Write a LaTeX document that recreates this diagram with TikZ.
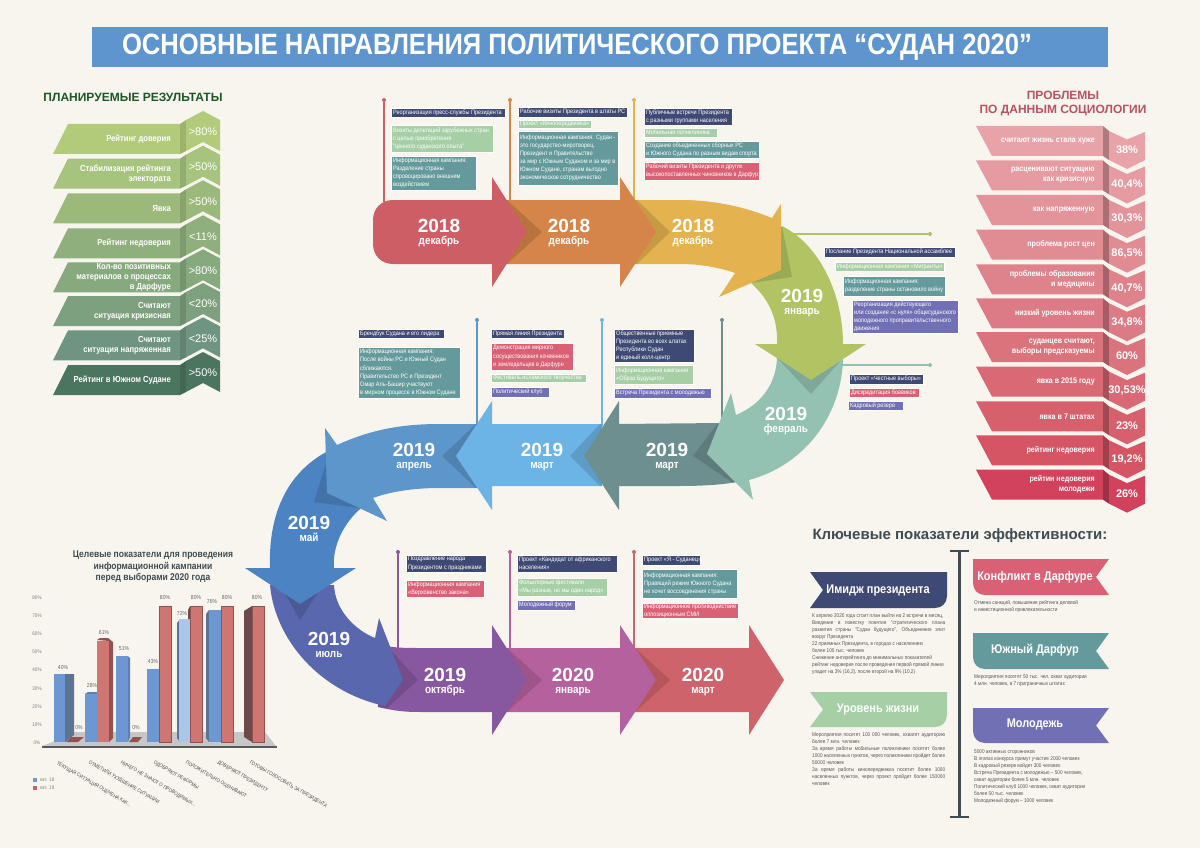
\documentclass[tikz,border=0pt]{standalone}
\usepackage{fontspec}
\setmainfont{Liberation Sans}
\newfontfamily\nf[FakeStretch=0.87]{Liberation Sans}
\definecolor{bg}{HTML}{F8F5EF}
\definecolor{cnavy}{HTML}{3F4A74}
\definecolor{cgreen}{HTML}{A6CFA6}
\definecolor{cteal}{HTML}{659A9C}
\definecolor{cred}{HTML}{DA6175}
\definecolor{cpurp}{HTML}{7270B4}
\definecolor{a1}{HTML}{CE5E66}
\definecolor{a2}{HTML}{D5854A}
\definecolor{a3}{HTML}{E4B34F}
\definecolor{a4}{HTML}{B1C362}
\definecolor{a5}{HTML}{93C1B2}
\definecolor{a6}{HTML}{6E8F90}
\definecolor{a7}{HTML}{6CB4E6}
\definecolor{a8}{HTML}{5C96CB}
\definecolor{a9}{HTML}{4C83C2}
\definecolor{a10}{HTML}{5867AE}
\definecolor{a11}{HTML}{87589F}
\definecolor{a12}{HTML}{B5619D}
\definecolor{a13}{HTML}{CE636B}
\definecolor{ink}{HTML}{3F4C52}
\definecolor{para}{HTML}{555555}
\definecolor{barb}{HTML}{6D97D2}
\definecolor{barl}{HTML}{A9C7E9}
\definecolor{bard}{HTML}{5C7392}
\definecolor{barr}{HTML}{CF7672}
\definecolor{barrd}{HTML}{6B4A48}
\definecolor{banner}{HTML}{5E95CE}
\tikzset{
  overlapmark/.style={fill=black,fill opacity=.13,draw=none},
  tbox/.style={draw=white,line width=.5pt,inner sep=0pt,outer sep=0pt},
  tbtext/.style={text=white,inner sep=0pt,align=left,font=\nf\fontsize{6.35}{8.1}\selectfont},
  yrlab/.style={text=white,inner sep=0pt,anchor=base,font=\bfseries\fontsize{19}{19}\selectfont},
  molab/.style={text=white,inner sep=0pt,anchor=base,font=\nf\bfseries\fontsize{11.4}{12}\selectfont},
  rowlab/.style={text=white,inner sep=0pt,align=right,anchor=east,font=\nf\bfseries\fontsize{8.8}{10}\selectfont},
  rowlabr/.style={text=white,inner sep=0pt,align=right,anchor=east,font=\nf\bfseries\fontsize{8.2}{10}\selectfont},
  rowval/.style={text=white,inner sep=0pt,font=\fontsize{11}{12}\selectfont},
  rowvalb/.style={text=white,inner sep=0pt,font=\bfseries\fontsize{11}{12}\selectfont},
  dotmark/.style={circle,inner sep=0pt,minimum size=4pt},
  ribtext/.style={text=white,inner sep=0pt,font=\nf\bfseries\fontsize{12.6}{14}\selectfont},
  partext/.style={text=para,inner sep=0pt,align=left,anchor=north west,font=\nf\fontsize{5.4}{7}\selectfont},
  tick/.style={text=gray,inner sep=0pt,font=\nf\fontsize{5.2}{6}\selectfont},
  vallab/.style={text=black!60,inner sep=0pt,font=\nf\fontsize{5.8}{6}\selectfont},
  catlab/.style={text=black!70,inner sep=0pt,anchor=north west,rotate=-30,font=\nf\fontsize{5.2}{6}\selectfont},
  gridl/.style={draw=black!8!blue!4!white,line width=.6pt},
}
\newcommand{\tbx}[7]{%
  \pgfmathsetmacro\tbw{#5-#3}\pgfmathsetmacro\tbh{#6-#4}%
  \node[tbox,fill=#2,minimum width=\tbw pt,minimum height=\tbh pt,anchor=north west] (#1) at (#3,#4) {};
  \node[tbtext,anchor=west] (#1t) at ([xshift=2pt]#1.west) {#7};}
\newcommand{\stemline}[6]{%
  \coordinate (#1b) at (#5,#6);
  \node[dotmark,fill=#2] (#1a) at (#3,#4) {};
  \draw[#2,line width=1.2pt] (#1a) -- (#1b);}
\newcommand{\yrm}[5]{%
  \node[yrlab] (#1y) at (#2,#3+6.8) {#4};
  \node[molab] (#1m) at (#2,#3+18) {#5};}
\newcommand{\lrow}[5]{%
  \begin{scope}[shift={(0,#1)}]
  \fill[#2] (53,154) -- (68,124) -- (180,124) -- (180,154) -- cycle;
  \fill[#2!88!black] (180,124) -- (186,120) -- (186,151) -- (180,154) -- cycle;
  \fill[#2] (186,120) -- (203,111) -- (220,120) -- (220,151) -- (203,142) -- (186,151) -- cycle;
  \node[rowlab] (#3l) at (171,139) {#4};
  \node[rowval] (#3v) at (203,132) {#5};
  \end{scope}}
\newcommand{\rrow}[5]{%
  \begin{scope}[shift={(0,#1)}]
  \fill[#2] (976,126) -- (1103,126) -- (1103,156) -- (992,156) -- cycle;
  \fill[#2!75!black] (1103,126) -- (1109,131) -- (1109,160) -- (1103,156) -- cycle;
  \fill[#2] (1109,131) -- (1127,139.5) -- (1145,132) -- (1145,160) -- (1127,169) -- (1109,160) -- cycle;
  \node[rowlabr] (#3l) at (1095,141) {#4};
  \node[rowvalb] (#3v) at (1127,150) {#5};
  \end{scope}}
\newcommand{\jl}[1]{\makebox[133pt][s]{#1}}
\begin{document}
\begin{tikzpicture}[x=1pt,y=-1pt]
\useasboundingbox (0,0) rectangle (1200,848);
\fill[bg] (0,0) rectangle (1200,848);
% title
\fill[banner] (92,27) rectangle (1108,67);
\node[text=white,inner sep=0pt,font=\nf\bfseries\fontsize{29.4}{30}\selectfont] (title) at (577,47) {ОСНОВНЫЕ НАПРАВЛЕНИЯ ПОЛИТИЧЕСКОГО ПРОЕКТА “СУДАН 2020”};

% stems
\stemline{s1}{a1}{384}{100}{384}{202}
\stemline{s2}{a2}{510}{100}{510}{202}
\stemline{s3}{a3}{634}{100}{634}{202}
\stemline{s4}{a4}{930}{234}{785}{234}
\stemline{s5}{a5}{930}{365}{840}{365}
\stemline{s6}{a8}{477}{320}{477}{426}
\stemline{s7}{a7}{602}{320}{602}{426}
\stemline{s8}{a6}{722}{320}{722}{426}
\stemline{s9}{a11}{398}{552}{398}{650}
\stemline{s10}{a12}{510}{552}{510}{650}
\stemline{s11}{a13}{634}{552}{634}{650}

% arrows, last one first: an earlier arrow lies over a later one
\fill[a13] (630,648) -- (749,648) -- (749,625) -- (784,680) -- (749,735) -- (749,712) -- (630,712) -- cycle;
\fill[overlapmark] (630,648) -- (635,648) -- (670,680) -- (635,712) -- (630,712) -- cycle;
\fill[a12] (502,648) -- (620,648) -- (620,625) -- (656,680) -- (620,735) -- (620,712) -- (502,712) -- cycle;
\fill[overlapmark] (502,648) -- (507,648) -- (542,680) -- (507,712) -- (502,712) -- cycle;
\fill[a11] (380,645) .. controls (395,648) and (405,648) .. (420,648) -- (492,648) -- (492,625) -- (527,680) -- (492,735) -- (492,712) -- (420,712) .. controls (405,712) and (395,711) .. (378,707) -- cycle;
\fill[overlapmark] (380,645) -- (387,646) -- (418,680) -- (387,708) -- (378,707) -- cycle;
\fill[a10] (270,585) .. controls (275,640) and (320,692) .. (385,706) -- (403,680) -- (379,618) -- (375,638) .. controls (355,630) and (335,610) .. (334,585) -- cycle;
\fill[overlapmark] (270,568) -- (300,620) -- (334,568) -- cycle;
\fill[a9] (330,450) .. controls (290,470) and (268,510) .. (270,568) -- (245,568) -- (300,604) -- (356,568) -- (334,568) .. controls (332,545) and (345,520) .. (365,505) -- cycle;
\fill[overlapmark] (330,450) -- (314,502) -- (359,508) -- cycle;
\fill[a8] (478,424) -- (440,424) .. controls (400,424) and (370,430) .. (337,445) -- (325,428) -- (327,493) -- (387,521) -- (373,498) .. controls (395,490) and (420,488) .. (440,488) -- (478,488) -- cycle;
\fill[overlapmark] (478,424) -- (476,424) -- (442,456) -- (476,488) -- (478,488) -- cycle;
\fill[a7] (602,424) -- (492,424) -- (492,401) -- (456,456) -- (492,510) -- (492,486) -- (602,486) -- cycle;
\fill[overlapmark] (602,424) -- (600,424) -- (570,456) -- (600,486) -- (602,486) -- cycle;
\fill[a6] (722,423) -- (619,424) -- (619,401) -- (584,456) -- (619,510) -- (619,486) -- (680,486) .. controls (700,486) and (720,485) .. (737,482) -- cycle;
\fill[overlapmark] (722,423) -- (717,424) -- (693,456) -- (733,483) -- (737,482) -- cycle;
\fill[a5] (777,358) .. controls (776,385) and (760,405) .. (736,415) -- (731,393) -- (707,454) -- (753,500) -- (749,480) .. controls (805,465) and (842,415) .. (843,358) -- cycle;
\fill[overlapmark] (777,358) -- (811,394) -- (843,358) -- cycle;
\fill[a4] (782,226) .. controls (820,245) and (843,295) .. (843,344) -- (866,344) -- (811,380) -- (755,344) -- (777,344) .. controls (778,320) and (770,300) .. (751,283) -- cycle;
\fill[overlapmark] (782,226) -- (792,277) -- (751,283) -- cycle;
\fill[a3] (632,200) -- (680,200) .. controls (715,200) and (745,207) .. (772,218) -- (781,204) -- (781,270) -- (719,297) -- (735,273) .. controls (715,266) and (695,264) .. (680,264) -- (632,264) -- cycle;
\fill[overlapmark] (632,200) -- (637,200) -- (670,232) -- (637,264) -- (632,264) -- cycle;
\fill[a2] (505,200) -- (620,200) -- (620,177) -- (656,232) -- (620,287) -- (620,264) -- (505,264) -- cycle;
\fill[overlapmark] (505,200) -- (507,200) -- (542,232) -- (507,264) -- (505,264) -- cycle;
\fill[a1] (393,200) -- (492,200) -- (492,177) -- (527,232) -- (492,287) -- (492,264) -- (393,264) .. controls (381,264) and (373,255) .. (373,244) -- (373,220) .. controls (373,209) and (381,200) .. (393,200) -- cycle;

\yrm{y1}{439}{226}{2018}{декабрь}
\yrm{y2}{569}{226}{2018}{декабрь}
\yrm{y3}{693}{226}{2018}{декабрь}
\yrm{y4}{802}{296}{2019}{январь}
\yrm{y5}{786}{414}{2019}{февраль}
\yrm{y6}{667}{450}{2019}{март}
\yrm{y7}{542}{450}{2019}{март}
\yrm{y8}{414}{450}{2019}{апрель}
\yrm{y9}{309}{523}{2019}{май}
\yrm{y10}{329}{639}{2019}{июль}
\yrm{y11}{445}{675}{2019}{октябрь}
\yrm{y12}{573}{675}{2020}{январь}
\yrm{y13}{703}{675}{2020}{март}

% text boxes
\tbx{b1}{cnavy}{391}{108}{505}{117}{Реорганизация пресс-службы Президента}
\tbx{b2}{cgreen}{391}{125}{493}{152}{Визиты делегаций зарубежных стран\\с целью приобретения\\"ценного суданского опыта"}
\tbx{b3}{cteal}{391}{156}{476}{190}{Информационная кампания:\\Разделение страны\\спровоцировано внешним\\воздействием}
\tbx{b4}{cnavy}{518}{107}{627}{117}{Рабочие визиты Президента в штаты РС}
\tbx{b5}{cgreen}{518}{120}{591}{128}{Проект «Кинопередвижка»}
\tbx{b6}{cteal}{518}{131}{618}{185}{Информационная кампания: Судан -\\это государство-миротворец.\\Президент и Правительство\\за мир с Южным Суданом и за мир в\\Южном Судане, странам выгодно\\экономическое сотрудничество}
\tbx{b7}{cnavy}{644}{108}{732}{125}{Публичные встречи Президента\\с разными группами населения}
\tbx{b8}{cgreen}{644}{128}{717}{137}{Мобильная поликлиника}
\tbx{b9}{cteal}{644}{141}{759}{158}{Создание объединенных сборных РС\\и Южного Судана по разным видам спорта}
\tbx{b10}{cred}{644}{162}{759}{180}{Рабочий визиты Президента и других\\высокопоставленных чиновников в Дарфур}
\tbx{b11}{cnavy}{824}{247}{955}{257}{Послание Президента Национальной ассамблее}
\tbx{b12}{cgreen}{835}{262}{944}{271}{Информационная кампания «Мигранты»}
\tbx{b13}{cteal}{843}{276}{945}{296}{Информационная кампания:\\разделение страны остановило войну}
\tbx{b14}{cpurp}{852}{300}{958}{333}{Реорганизация действующего\\или создание «с нуля» общесуданского\\молодежного проправительственного\\движения}
\tbx{b15}{cnavy}{849}{374}{923}{384}{Проект «Честные выборы»}
\tbx{b16}{cred}{849}{388}{919}{397}{Дискредитация боевиков}
\tbx{b17}{cpurp}{848}{401}{903}{410}{Кадровый резерв}
\tbx{b18}{cnavy}{358}{329}{444}{338}{Брендбук Судана и его лидера}
\tbx{b19}{cteal}{358}{347}{460}{398}{Информационная кампания:\\После войны РС и Южный Судан\\сближаются.\\Правительство РС и Президент\\Омар Аль-Башир участвуют\\в мирном процессе в Южном Судане}
\tbx{b20}{cnavy}{491}{329}{564}{338}{Прямая линия Президента}
\tbx{b21}{cred}{491}{343}{573}{370}{Демонстрация мирного\\сосуществования кочевников\\и земледельцев в Дарфуре}
\tbx{b22}{cgreen}{491}{374}{586}{382}{Фестиваль исламского творчества}
\tbx{b23}{cpurp}{491}{387}{549}{397}{Политический клуб}
\tbx{b24}{cnavy}{614}{329}{694}{362}{Общественные приемные\\Президента во всех штатах\\Республики Судан\\и единый колл-центр}
\tbx{b25}{cgreen}{614}{365}{693}{384}{Информационная кампания\\«Образ Будущего»}
\tbx{b26}{cpurp}{614}{388}{711}{398}{Встреча Президента с молодежью}
\tbx{b27}{cnavy}{406}{555}{486}{572}{Поздравление народа\\Президентом с праздниками}
\tbx{b28}{cred}{406}{580}{484}{597}{Информационная кампания\\«Верховенство закона»}
\tbx{b29}{cnavy}{517}{555}{617}{572}{Проект «Кандидат от африканского\\населения»}
\tbx{b30}{cgreen}{517}{578}{607}{596}{Фольклорные фестивали\\«Мы разные, но мы один народ»}
\tbx{b31}{cpurp}{517}{600}{575}{610}{Молодежный форум}
\tbx{b32}{cnavy}{642}{555}{700}{565}{Проект «Я - Суданец»}
\tbx{b33}{cteal}{642}{569}{737}{598}{Информационная кампания:\\Правящий режим Южного Судана\\не хочет воссоединения страны}
\tbx{b34}{cred}{642}{603}{738}{618}{Информационное противодействие\\оппозиционным СМИ}

% left ladder
\node[text=a6!55!green!45!black,inner sep=0pt,font=\bfseries\fontsize{12}{13}\selectfont] (lhead) at (133,97) {ПЛАНИРУЕМЫЕ РЕЗУЛЬТАТЫ};
\definecolor{l1}{HTML}{B2CB7A}\definecolor{l2}{HTML}{A7C47E}\definecolor{l3}{HTML}{9CB97C}\definecolor{l4}{HTML}{8FB07C}
\definecolor{l5}{HTML}{86A97E}\definecolor{l6}{HTML}{7DA07E}\definecolor{l7}{HTML}{6F9582}\definecolor{l8}{HTML}{4C7560}
\lrow{0}{l1}{lr1}{Рейтинг доверия}{>80\%}
\lrow{34.7}{l2}{lr2}{Стабилизация рейтинга\\электората}{>50\%}
\lrow{69.3}{l3}{lr3}{Явка}{>50\%}
\lrow{104.3}{l4}{lr4}{Рейтинг недоверия}{<11\%}
\lrow{138.3}{l5}{lr5}{Кол-во позитивных\\материалов о процессах\\в Дарфуре}{>80\%}
\lrow{172}{l6}{lr6}{Считают\\ситуация кризисная}{<20\%}
\lrow{206.3}{l7}{lr7}{Считают\\ситуация напряженная}{<25\%}
\lrow{241}{l8}{lr8}{Рейтинг в Южном Судане}{>50\%}

% right ladder
\node[text=cred!85!black,inner sep=0pt,align=center,font=\bfseries\fontsize{12}{14}\selectfont] (rhead) at (1063,104) {ПРОБЛЕМЫ\\ПО ДАННЫМ СОЦИОЛОГИИ};
\definecolor{r1}{HTML}{E8A3A8}\definecolor{r2}{HTML}{E59BA1}\definecolor{r3}{HTML}{E3939A}\definecolor{r4}{HTML}{E18B93}
\definecolor{r5}{HTML}{DE838C}\definecolor{r6}{HTML}{DC7B85}\definecolor{r7}{HTML}{DB737D}\definecolor{r8}{HTML}{D96A75}
\definecolor{r9}{HTML}{D7606D}\definecolor{r10}{HTML}{D55565}\definecolor{r11}{HTML}{D2425C}
\rrow{0}{r1}{rr1}{считают жизнь стала хуже}{38\%}
\rrow{34.5}{r2}{rr2}{расценивают ситуацию\\как кризисную}{40,4\%}
\rrow{69}{r3}{rr3}{как напряженную}{30,3\%}
\rrow{103.7}{r4}{rr4}{проблема рост цен}{86,5\%}
\rrow{138.3}{r5}{rr5}{проблемы образования\\и медицины}{40,7\%}
\rrow{172.3}{r6}{rr6}{низкий уровень жизни}{34,8\%}
\rrow{206}{r7}{rr7}{суданцев считают,\\выборы предсказуемы}{60\%}
\rrow{240.7}{r8}{rr8}{явка в 2015 году}{30,53\%}
\rrow{275.3}{r9}{rr9}{явка в 7 штатах}{23\%}
\rrow{309.3}{r10}{rr10}{рейтинг недоверия}{19,2\%}
\rrow{343.7}{r11}{rr11}{рейтин недоверия\\молодежи}{26\%}

% KPI block
\node[text=ink,inner sep=0pt,font=\bfseries\fontsize{15}{17}\selectfont] (khead) at (960,536) {Ключевые показатели эффективности:};
\coordinate (itop) at (959,551);
\coordinate (ibot) at (959,817);
\draw[ink,line width=3pt] (itop) -- (ibot);
\draw[ink,line width=2.4pt] ([xshift=-9pt]itop) -- ([xshift=10pt]itop);
\draw[ink,line width=2.4pt] ([xshift=-9pt]ibot) -- ([xshift=10pt]ibot);
\fill[cnavy] (810,572) -- (947,572) -- (947,596) .. controls (947,603) and (942,608) .. (935,608) -- (810,608) -- (823,590) -- cycle;
\node[ribtext] (rib1) at (878,590) {Имидж президента};
\fill[cgreen] (810,692) -- (947,692) -- (947,715) .. controls (947,722) and (942,727) .. (935,727) -- (810,727) -- (823,709.5) -- cycle;
\node[ribtext] (rib2) at (878,709) {Уровень жизни};
\fill[cred] (973,559) -- (1109,559) -- (1096,577) -- (1109,595) -- (985,595) .. controls (978,595) and (973,590) .. (973,583) -- cycle;
\node[ribtext] (rib3) at (1035,577) {Конфликт в Дарфуре};
\fill[cteal] (973,633) -- (1109,633) -- (1096,651) -- (1109,669) -- (985,669) .. controls (978,669) and (973,664) .. (973,657) -- cycle;
\node[ribtext] (rib4) at (1035,650) {Южный Дарфур};
\fill[cpurp] (973,708) -- (1109,708) -- (1096,725.5) -- (1109,743) -- (985,743) .. controls (978,743) and (973,738) .. (973,731) -- cycle;
\node[ribtext] (rib5) at (1035,724) {Молодежь};
\node[partext] (p1) at (812,613.5) {К апрелю 2020 года стоит план выйти на 2 встречи в месяц,\\\jl{Введение в повестку понятия "стратегического плана}\\\jl{развития страны "Судан будущего", Объединение элит}\\вокруг Президента\\22 приемных Президента, в городах с населением\\ более 100 тыс. человек\\Снижение антирейтинга до минимальных показателей\\рейтинг недоверия после проведения первой прямой линии\\упадет на 3\% (16,2), после второй на 9\% (10,2)};
\node[partext] (p2) at (812,732.5) {\jl{Мероприятия посетят 100 000 человек, охватят аудиторию}\\более 7 млн. человек\\\jl{За время работы мобильные поликлиники посетят более}\\\jl{1000 населенных пунктов, через поликлиники пройдет более}\\50000 человек\\\jl{За время работы кинопередвижка посетит более 1000}\\\jl{населенных пунктов, через проект пройдет более 150000}\\человек};
\node[partext] (p3) at (974,600) {Отмена санкций, повышение рейтинга деловой\\и инвестиционной привлекательности};
\node[partext] (p4) at (974,675) {Мероприятия посетят 50 тыс. чел, охват аудитории\\4 млн. человек, в 7 приграничных штатах};
\node[partext] (p5) at (974,750) {5000 активных сторонников\\В этапах конкурса примут участие 2000 человек\\В кадровый резерв войдет 300 человек\\Встреча Президента с молодежью – 500 человек,\\охват аудитории более 5 млн. человек\\Политический клуб 1000 человек, охват аудитории\\более 50 тыс. человек\\Молодежный форум – 1000 человек};

% chart
\node[text=ink,inner sep=0pt,align=center,font=\nf\bfseries\fontsize{9.8}{11.6}\selectfont] (ctitle) at (153,567) {Целевые показатели для проведения\\информационной кампании\\ перед выборами 2020 года};
\foreach \lb/\a/\b in {80/598/615,70/616/630,60/634/644,50/652/659,40/670/674,30/689/689,20/707/703,10/725/718}{
  \node[tick] at (37,\a) {\lb\%};
  \draw[gridl] (43,\a) -- (65,\b) -- (265,\b);
}
\node[tick] at (37,743) {0\%};
\fill[black!22] (53,742) -- (65,732) -- (265,732) -- (276,746) -- (42,746) -- cycle;
\draw[black!65,line width=1.6pt] (42,747) -- (277,747);
% group 1
\fill[barb] (54,674) rectangle (65,742);
\fill[bard] (65,674) -- (74,674) -- (74,735) -- (65,742) -- cycle;
\fill[barr!70!black] (66,742) -- (71,737) -- (84,737) -- (78,742) -- cycle;
% group 2
\fill[barb!85!black] (85,694) -- (88,692) -- (97,692) -- (97,694) -- cycle;
\fill[barb] (85,694) rectangle (97,742);
\fill[barr!70!black] (97,640) -- (100,638) -- (108,638) -- (113,642) -- (113,738) -- (109,742) -- (109,641) -- cycle;
\fill[barr] (97,641) rectangle (109,742);
% group 3
\fill[barb!85!black] (128,656) -- (130,658) -- (130,737) -- (128,742) -- cycle;
\fill[barb] (116,656) rectangle (128,742);
\fill[barr!70!black] (129,742) -- (133,737) -- (142,737) -- (138,742) -- cycle;
% group 4
\fill[barb] (147,669) rectangle (159,742);
\fill[barr] (159,606) rectangle (171,742);
\draw[barr!70!black,line width=.6pt] (159,606) rectangle (171,742);
% group 5
\fill[bard] (177,623) -- (180,619) -- (180,742) -- (177,738) -- cycle;
\fill[barl] (179,619) rectangle (190,742);
\fill[barrd] (188,610) -- (190,606) -- (190,619) -- (188,619) -- cycle;
\fill[barr] (190,606) rectangle (202,742);
\draw[barr!70!black,line width=.6pt] (190,606) rectangle (202,742);
% group 6
\fill[bard] (206,614) -- (209,610) -- (209,742) -- (206,738) -- cycle;
\fill[barb] (209,610) rectangle (221,742);
\fill[barr] (221,606) rectangle (233,742);
\draw[barr!70!black,line width=.6pt] (221,606) rectangle (233,742);
% group 7
\fill[barrd] (244,611) -- (252,606) -- (252,742) -- (244,737) -- cycle;
\fill[barr] (252,606) rectangle (264,742);
\draw[barr!70!black,line width=.6pt] (252,606) rectangle (264,742);
% value labels
\foreach \t/\px/\py in {40/63/667,0/79/727,28/92/685,61/104/632,51/124/649,0/136/727,43/153/661,80/165/597,72/182/613,80/196/597,76/212/601,80/227/597,80/257/597}{
  \node[vallab] at (\px,\py) {\t\%};
}
\node[catlab] (c1) at (58,761) {ТЕКУЩАЯ СИТУАЦИЯ ОЦЕНЕНА КАК...};
\node[catlab] (c2) at (90,760) {ОТМЕТИЛИ УХУДШЕНИЕ СИТУАЦИИ};
\node[catlab] (c3) at (122,760) {НИЧЕГО НЕ ЗНАЮТ О ПРОВОДИМЫХ...};
\node[catlab] (c4) at (155,760) {ОДОБРЯЮТ РЕФОРМЫ};
\node[catlab] (c5) at (187,760) {ПОЛОЖИТЕЛЬНО ОЦЕНИВАЮТ};
\node[catlab] (c6) at (219,760) {ДОВЕРЯЮТ ПРЕЗИДЕНТУ};
\node[catlab] (c7) at (251,760) {ГОТОВЫ ГОЛОСОВАТЬ ЗА ПРЕЗИДЕНТА};
\fill[barb] (33,778) rectangle (37,782);
\fill[barr!90!black] (33,786) rectangle (37,790);
\node[tick,anchor=west] (lg1) at (40,780) {окт. 18};
\node[tick,anchor=west] (lg2) at (40,788) {окт. 19};
\end{tikzpicture}
\end{document}
